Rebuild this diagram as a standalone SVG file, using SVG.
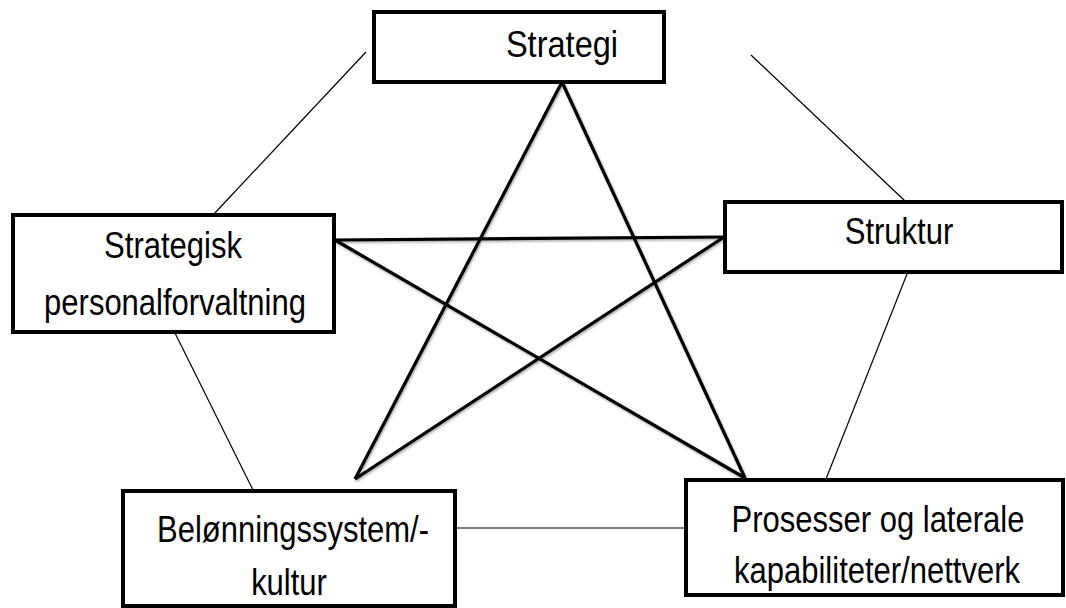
<svg xmlns="http://www.w3.org/2000/svg" width="1066" height="608" viewBox="0 0 1066 608">
  <defs>
    <style>
      .box { fill: #ffffff; stroke: #000000; stroke-width: 4; }
      .lbl { font-family: "Liberation Sans", Arial, sans-serif; font-size: 31px; fill: #000000; text-anchor: middle; }
      .thin { stroke: #000000; stroke-width: 1.2; fill: none; }
      .star { stroke: #000000; stroke-width: 3.2; fill: none; stroke-linejoin: miter; }
    </style>
    <filter id="shadow" x="-10%" y="-10%" width="120%" height="120%">
      <feDropShadow dx="1" dy="1.5" stdDeviation="1" flood-color="#000000" flood-opacity="0.35"/>
    </filter>
  </defs>
  <rect width="1066" height="608" fill="#ffffff"/>

  <g id="connectors">
    <line class="thin" x1="366" y1="52" x2="214" y2="214"/>
    <line class="thin" x1="751" y1="55" x2="905" y2="201"/>
    <line class="thin" x1="175" y1="333" x2="253" y2="490"/>
    <line class="thin" x1="907" y1="274" x2="826" y2="479"/>
    <line class="thin" x1="455" y1="528" x2="686" y2="528"/>
    <g filter="url(#shadow)">
      <polyline class="star" points="355,479 562,82 745,478"/>
      <line class="star" x1="335" y1="240" x2="724" y2="237"/>
      <line class="star" x1="335" y1="240" x2="745" y2="478"/>
      <line class="star" x1="724" y1="237" x2="355" y2="479"/>
    </g>
  </g>

  <g id="strategi">
    <rect class="box" x="374" y="12" width="290" height="70"/>
    <text class="lbl" transform="translate(562,57) scale(1.05,1.17)">Strategi</text>
  </g>

  <g id="strategisk-personalforvaltning">
    <rect class="box" x="13" y="215" width="321" height="117"/>
    <text class="lbl" transform="translate(173,258) scale(1,1.17)">Strategisk</text>
    <text class="lbl" transform="translate(175,315) scale(1,1.17)">personalforvaltning</text>
  </g>

  <g id="struktur">
    <rect class="box" x="725" y="202" width="337" height="70"/>
    <text class="lbl" transform="translate(899,244) scale(1,1.17)">Struktur</text>
  </g>

  <g id="belonningssystem">
    <rect class="box" x="123" y="491" width="332" height="115"/>
    <text class="lbl" transform="translate(293,542) scale(1,1.17)">Belønningssystem/-</text>
    <text class="lbl" transform="translate(289,595) scale(1,1.17)">kultur</text>
  </g>

  <g id="prosesser">
    <rect class="box" x="686" y="480" width="377" height="115"/>
    <text class="lbl" transform="translate(878,532) scale(1,1.17)">Prosesser og laterale</text>
    <text class="lbl" transform="translate(877,583) scale(1,1.17)">kapabiliteter/nettverk</text>
  </g>
</svg>
